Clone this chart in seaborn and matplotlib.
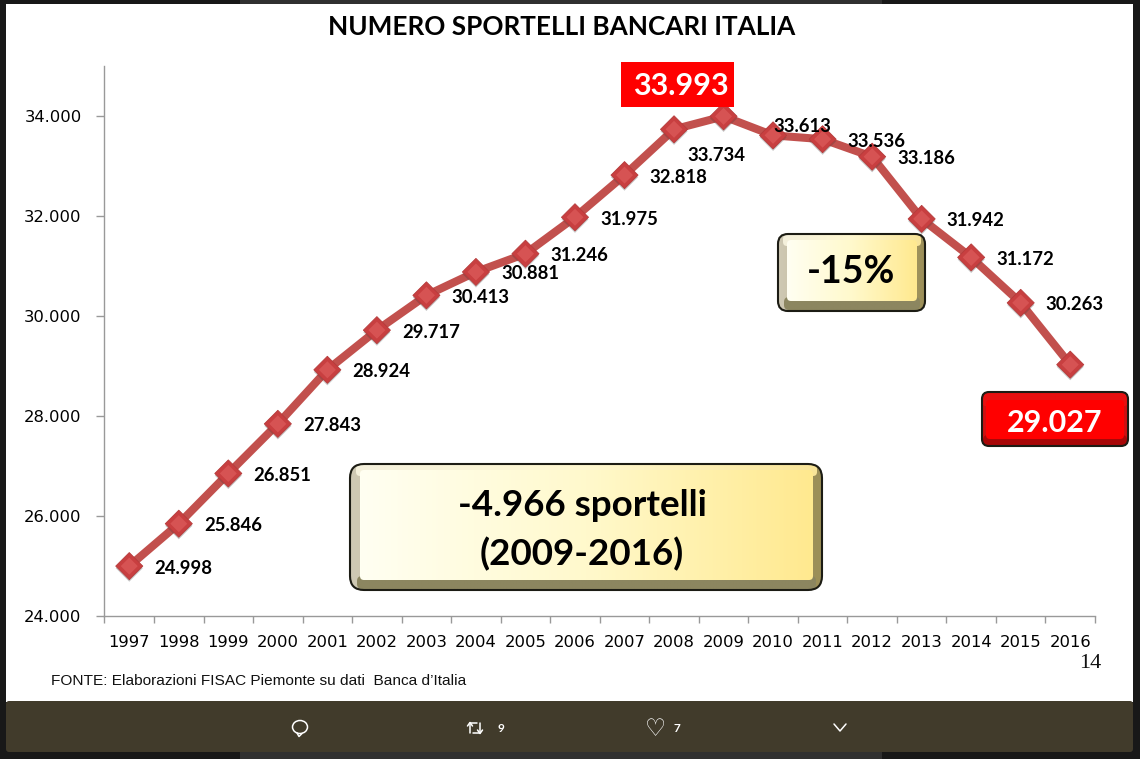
# plot.py
"""Numero sportelli bancari Italia, 1997-2016"""

import matplotlib
matplotlib.use('Agg')
import matplotlib.pyplot as plt
import matplotlib.patheffects as pe
from matplotlib.patches import FancyBboxPatch, Rectangle, Ellipse
from matplotlib.ticker import FixedLocator, FuncFormatter
import numpy as np
import pandas as pd
import seaborn as sns

years = ['1997', '1998', '1999', '2000', '2001', '2002', '2003', '2004', '2005', '2006',
         '2007', '2008', '2009', '2010', '2011', '2012', '2013', '2014', '2015', '2016']
sportelli = [24998, 25846, 26851, 27843, 28924, 29717, 30413, 30881, 31246, 31975,
             32818, 33734, 33993, 33613, 33536, 33186, 31942, 31172, 30263, 29027]
y_ticks = [24000, 26000, 28000, 30000, 32000, 34000]

title_text = 'NUMERO SPORTELLI BANCARI ITALIA'
source_text = 'FONTE: Elaborazioni FISAC Piemonte su dati  Banca d\u2019Italia'
boxed_years = ['2009', '2016']

BOLD_FONT = 'Lato'
W, H = 1140, 759


def dotted(v, _pos=None):
    return f'{int(v):,}'.replace(',', '.')


def gradient_box(ax, x0, y0, x1, y1, radius, colors, edgecolor='none', lw=0, zorder=3):
    """rounded box filled with a horizontal gradient"""
    patch = FancyBboxPatch((x0 + radius, y0 + radius), x1 - x0 - 2 * radius, y1 - y0 - 2 * radius,
                           boxstyle=f'round,pad={radius},rounding_size={radius}',
                           facecolor='none', edgecolor=edgecolor, linewidth=lw, zorder=zorder + 0.1)
    ax.add_patch(patch)
    rgb = np.array([matplotlib.colors.to_rgb(c) for c in colors])
    steps = np.linspace(0, len(colors) - 1, 256)
    grad = np.stack([np.interp(steps, range(len(colors)), rgb[:, i]) for i in range(3)], axis=1)
    im = ax.imshow(grad[np.newaxis, :, :], extent=(x0, x1, y1, y0), aspect='auto', zorder=zorder,
                   interpolation='bilinear')
    im.set_clip_path(patch)
    ax.set_xlim(0, W)
    ax.set_ylim(H, 0)


def bevel_button(ax, outer, inner, radius, side_colors, bottom_color, top_colors, face_colors):
    x0, y0, x1, y1 = outer
    gradient_box(ax, x0, y0, x1, y1, radius, side_colors, edgecolor='#1c1c14', lw=1.5, zorder=3)
    ix0, iy0, ix1, iy1 = inner
    # fascia inferiore scura e fascia superiore chiara
    gradient_box(ax, ix0 - 3, iy1 - 4, ix1 + 3, y1 - 1, 5, [bottom_color, bottom_color], zorder=3.05)
    gradient_box(ax, ix0 - 4, y0 + 1, ix1 + 4, iy0 + 6, 4, top_colors, zorder=3.06)
    gradient_box(ax, ix0, iy0, ix1, iy1, 4, face_colors, zorder=3.2)


sns.set_theme(style='white')
fig = plt.figure(figsize=(W / 100, H / 100), dpi=100, facecolor='#181818')

# sfondo: pannello bianco e barra in basso
bg = fig.add_axes([0, 0, 1, 1], zorder=0)
bg.set_xlim(0, W)
bg.set_ylim(H, 0)
bg.axis('off')
bg.add_patch(Rectangle((240, 0), 642, 5, facecolor='#303030', edgecolor='none'))
bg.add_patch(Rectangle((240, 752), 642, 7, facecolor='#303030', edgecolor='none'))
bg.add_patch(Rectangle((6, 4), 1127, 698, facecolor='white', edgecolor='none'))
bg.add_patch(FancyBboxPatch((8, 703), 1123, 47, boxstyle='round,pad=2,rounding_size=3',
                            facecolor='#413b2b', edgecolor='none'))

# grafico
ax = fig.add_axes([104.5 / W, 1 - 616 / H, (1095 - 104.5) / W, (616 - 66) / H], zorder=1)
ax.patch.set_alpha(0)
df = pd.DataFrame({'anno': years, 'sportelli': sportelli})
sns.lineplot(data=df, x='anno', y='sportelli', ax=ax, color='#c2504d', linewidth=5.8,
             errorbar=None, sort=False, solid_joinstyle='miter')
sns.scatterplot(data=df, x='anno', y='sportelli', ax=ax, marker='D', s=190, color='#c83f40',
                edgecolor='#b53b3b', linewidth=0.6, zorder=4,
                path_effects=[pe.SimplePatchShadow(offset=(0, -1.5), alpha=0.3, shadow_rgbFace='#444444'),
                              pe.Normal()])
sns.scatterplot(data=df, x='anno', y='sportelli', ax=ax, marker='D', s=75, color='#dc5a5a',
                edgecolor='none', alpha=0.75, zorder=4.1)
ax.set_xlim(-0.5, 19.5)
ax.set_ylim(24000, 35000)
ax.set_xlabel('')
ax.set_ylabel('')
ax.yaxis.set_major_locator(FixedLocator(y_ticks))
ax.yaxis.set_major_formatter(FuncFormatter(dotted))
ax.xaxis.set_minor_locator(FixedLocator(np.arange(-0.5, 20, 1)))
ax.tick_params(axis='x', which='major', length=0, pad=13.5, labelsize=11.8, labelcolor='black')
ax.tick_params(axis='x', which='minor', bottom=True, length=5, width=1, color='#999999')
ax.tick_params(axis='y', left=True, length=6, width=1, color='#999999', pad=10.5,
               labelsize=11.8, labelcolor='black')
for side in ['top', 'right']:
    ax.spines[side].set_visible(False)
for side in ['left', 'bottom']:
    ax.spines[side].set_color('#999999')
    ax.spines[side].set_linewidth(1)

# etichette dei dati
offsets = {'2008': (13, -26), '2010': (0, 9)}
for anno, valore in zip(years, sportelli):
    if anno in boxed_years:
        continue
    dx, dy = offsets.get(anno, (25, -2))
    ax.annotate(dotted(valore), (years.index(anno), valore), xytext=(dx, dy),
                textcoords='offset pixels', ha='left', va='center', fontsize=13.3,
                fontweight='bold', family=BOLD_FONT, color='black', zorder=6)

# livello superiore: titolo, riquadri, note
top = fig.add_axes([0, 0, 1, 1], zorder=2)
top.patch.set_alpha(0)
top.axis('off')
top.set_xlim(0, W)
top.set_ylim(H, 0)

top.text(562, 27, title_text, ha='center', va='center', fontsize=18.8, fontweight='bold',
         family=BOLD_FONT, color='black')

top.add_patch(Rectangle((621, 62), 113, 45, facecolor='#ff0000', edgecolor='none', zorder=3))
top.text(681, 86, dotted(sportelli[years.index('2009')]), ha='center', va='center', fontsize=22,
         fontweight='bold', family=BOLD_FONT, color='white', zorder=4)

yellow_face = ['#fffff2', '#fff9cc', '#ffe98f']
yellow_side = ['#cfc9b4', '#b8ac80', '#9c8f58']
yellow_top = ['#f4f0dc', '#fff8d0', '#f8e498']

bevel_button(top, (350, 464, 822, 590), (360, 470, 813, 580), 14, yellow_side, '#8c8660', yellow_top, yellow_face)
top.text(582, 530, '-4.966 sportelli\n(2009-2016)', ha='center', va='center', fontsize=26.5,
         fontweight='bold', family=BOLD_FONT, color='black', linespacing=1.5, zorder=4)

bevel_button(top, (778, 234, 925, 311), (787, 240, 917, 301), 10, yellow_side, '#8c8660', yellow_top, yellow_face)
top.text(851, 272, '-15%', ha='center', va='center', fontsize=27, fontweight='bold',
         family=BOLD_FONT, color='black', zorder=4)

bevel_button(top, (982, 392, 1128, 446), (986, 400, 1124, 439), 7, ['#d01010', '#d01010'], '#a80808',
             ['#e81010', '#e81010'], ['#ff0000', '#ff0000'])
top.text(1055, 423, dotted(sportelli[years.index('2016')]), ha='center', va='center', fontsize=22,
         fontweight='bold', family=BOLD_FONT, color='white', zorder=4)

top.text(51, 681, source_text, ha='left', va='center', fontsize=11.05, family='Liberation Sans',
         color='#111111')
top.text(1090, 664, '14', ha='center', va='center', fontsize=16, family='Liberation Serif',
         color='#111111')

# icone della barra
icon = {'color': 'white', 'lw': 1.1, 'solid_capstyle': 'round'}
top.add_patch(Ellipse((300, 727), 15, 13, facecolor='none', edgecolor='white', lw=1.1))
top.plot([297, 299, 302], [733, 736.5, 733.5], **icon)
top.plot([470, 470, 477], [733, 723, 723], **icon)
top.plot([467.5, 470, 472.5], [726, 722.5, 726], **icon)
top.plot([480, 480, 473], [723, 733, 733], **icon)
top.plot([477.5, 480, 482.5], [730, 733.5, 730], **icon)
top.text(497, 728, '9', ha='left', va='center', fontsize=8.5, fontweight='bold', color='white',
         family=BOLD_FONT)
top.text(655, 729, '\u2661', ha='center', va='center', fontsize=17, color='white', family='DejaVu Sans')
top.text(674, 728, '7', ha='left', va='center', fontsize=8.5, fontweight='bold', color='white',
         family=BOLD_FONT)
top.plot([834, 840, 846], [724, 731, 724], **icon)

fig.savefig('out.png', dpi=100, facecolor=fig.get_facecolor())
plt.close(fig)
